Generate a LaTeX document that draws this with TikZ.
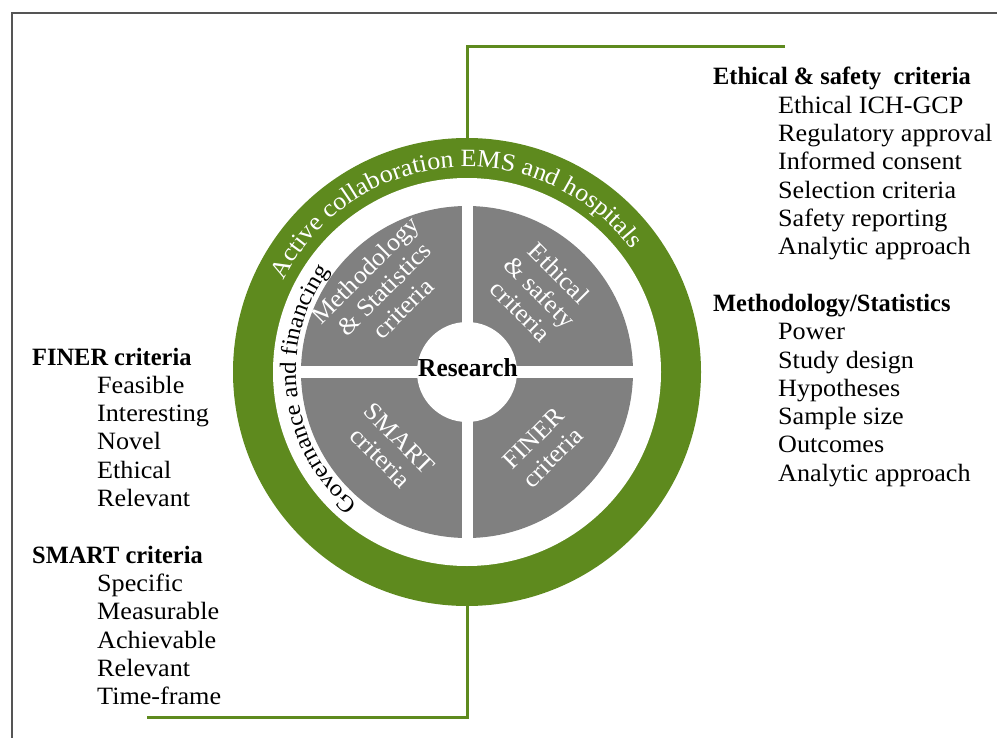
\documentclass[tikz,border=0pt]{standalone}
\usepackage{fontspec}
\setmainfont{Liberation Serif}[FakeStretch=1.05, BoldFeatures={FakeStretch=0.98}]
\usetikzlibrary{decorations.text}
\definecolor{ringgreen}{HTML}{5E8A1E}
\definecolor{quadgray}{HTML}{808080}
\definecolor{framegray}{HTML}{555555}
\begin{document}
\begin{tikzpicture}[x=1bp,y=1bp,
  gline/.style={draw=ringgreen, line width=3bp},
  frameline/.style={draw=framegray, line width=1.5bp},
  listhead/.style={anchor=base west, inner sep=0pt, font=\fontsize{25}{28}\selectfont\bfseries},
  listitem/.style={anchor=base west, inner sep=0pt, font=\fontsize{25}{28}\selectfont},
  quadtext/.style={text=white, align=center, inner sep=0pt, font=\fontsize{25}{27}\selectfont},
]
\useasboundingbox (0,0) rectangle (997,-738);
\coordinate (c) at (467,-372);
% frame
\coordinate (frTL) at (12,-13);
\coordinate (frTR) at (997,-13);
\coordinate (frBL) at (12,-738);
\draw[frameline] (frTR) -- (frTL) -- (frBL);
% connectors
\coordinate (ringtop) at (467,-150);
\coordinate (ringbot) at (467,-590);
\coordinate (topend) at (785,-47);
\coordinate (botend) at (147,-717);
\draw[gline] (ringtop) |- (topend);
\draw[gline] (ringbot) |- (botend);
% ring
\fill[ringgreen] (c) circle[radius=234];
\fill[white] (c) circle[radius=194];
% quadrants
\fill[quadgray] (c) circle[radius=166];
\fill[white] (c) circle[radius=50];
\fill[white] (c) ++(-170,-6) rectangle ++(340,12);
\fill[white] (c) ++(-5.5,-170) rectangle ++(11,340);
% curved texts
\path[decorate, decoration={text along path, text align=center,
  text={|\fontsize{25}{25}\selectfont\color{white}|Active collaboration EMS and hospitals}}]
  (c) ++(185:205) arc[start angle=185, end angle=5, radius=205];
\path[decorate, decoration={text along path, text align=center,
  text={|\fontsize{23.5}{23.5}\selectfont|Governance and financing}}]
  (c) ++(257:171) arc[start angle=257, end angle=117, radius=171];
% quadrant labels
\node[quadtext, rotate=45] (qms) at (384,-289) {Methodology\\\& Statistics\\criteria};
\node[quadtext, rotate=-45] (qes) at (540,-292) {Ethical\\\& safety\\criteria};
\node[quadtext, rotate=-45] (qsm) at (390,-448) {SMART\\criteria};
\node[quadtext, rotate=45] (qfi) at (543,-448) {FINER\\criteria};
\node[font=\fontsize{26}{26}\selectfont\bfseries, inner sep=0pt] (res) at (468,-368) {Research};
% right lists
\node[listhead] (eh) at (713,-85) {Ethical \& safety\ \ criteria};
\foreach \t [count=\i] in {Ethical ICH-GCP, Regulatory approval, Informed consent, Selection criteria, Safety reporting, Analytic approach}
  \node[listitem] (ei\i) at (778,{-85-28.3*\i}) {\t};
\node[listhead] (mh) at (713,-311.4) {Methodology/Statistics};
\foreach \t [count=\i] in {Power, Study design, Hypotheses, Sample size, Outcomes, Analytic approach}
  \node[listitem] (mi\i) at (778,{-311.4-28.3*\i}) {\t};
% left lists
\node[listhead] (fh) at (32,-365) {FINER criteria};
\foreach \t [count=\i] in {Feasible, Interesting, Novel, Ethical, Relevant}
  \node[listitem] (fi\i) at (97,{-365-28.3*\i}) {\t};
\node[listhead] (sh) at (32,-563.1) {SMART criteria};
\foreach \t [count=\i] in {Specific, Measurable, Achievable, Relevant, Time-frame}
  \node[listitem] (si\i) at (97,{-563.1-28.3*\i}) {\t};
\end{tikzpicture}
\end{document}
